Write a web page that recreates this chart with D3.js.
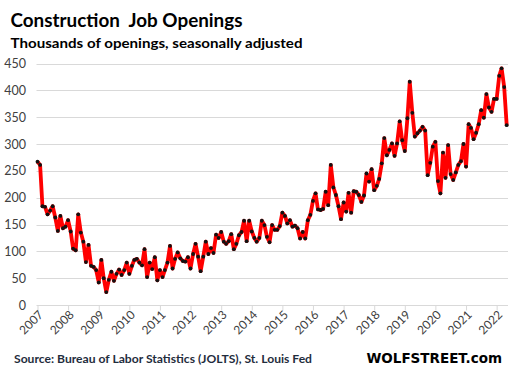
<!DOCTYPE html>
<html><head><meta charset="utf-8">
<script src="https://cdn.jsdelivr.net/npm/d3@7"></script>
<style>
html,body{margin:0;padding:0;background:#fff;}
svg{display:block;}
</style></head>
<body>
<svg id="chart" width="513" height="378"></svg>
<script>
// ---- data ----
const startMonth = "2007-01";
const openings = [
267,261,184,183,169,176,184,163,138,166,143,146,
158,137,105,102,169,135,118,80,112,73,71,65,
42,84,50,24,47,62,45,58,66,56,65,79,
58,73,84,86,79,74,104,52,79,67,89,46,
65,52,65,79,110,68,86,98,87,82,81,89,
68,95,114,90,63,90,118,95,106,97,131,125,
136,118,114,119,132,104,114,130,136,157,119,157,
137,125,118,125,157,149,127,117,149,140,140,147,
172,166,152,158,146,148,143,124,136,124,158,168,
194,208,178,177,179,211,186,261,219,205,184,160,
191,174,209,172,212,211,205,192,204,245,230,253,
214,222,235,264,311,279,289,301,278,301,342,307,
287,348,416,358,314,320,325,332,325,242,265,295,
304,231,208,284,237,298,244,233,247,261,268,300,
258,337,330,309,321,337,363,349,393,368,360,384,
384,427,441,406,335
];
const yTicks = [0,50,100,150,200,250,300,350,400,450];
const yearTicks = [2007,2008,2009,2010,2011,2012,2013,2014,2015,2016,2017,2018,2019,2020,2021,2022];
const title = "Construction  Job Openings";
const subtitle = "Thousands of openings, seasonally adjusted";
const source = "Source: Bureau of Labor Statistics (JOLTS), St. Louis Fed";
const brand = "WOLFSTREET.com";

// ---- build ----
const parse = d3.timeParse("%Y-%m");
const t0 = parse(startMonth);
const data = openings.map((v,i)=>({date:d3.timeMonth.offset(t0,i), value:v}));

const svg = d3.select("#chart");
const font = "Lato, 'Open Sans', sans-serif";

const x = d3.scaleTime()
  .domain([data[0].date, data[data.length-1].date])
  .range([37.5, 506.7]);
const y = d3.scaleLinear().domain([0,450]).range([305,63.5]);

// gridlines
svg.append("g").selectAll("line").data(yTicks.filter(d=>d>0)).join("line")
  .attr("x1",36.5).attr("x2",508)
  .attr("y1",d=>Math.round(y(d))+0.5).attr("y2",d=>Math.round(y(d))+0.5)
  .attr("stroke","#d9d9d9").attr("stroke-width",1);

// x axis
const xAxis = d3.axisBottom(x)
  .tickValues(yearTicks.map(yr=>new Date(yr,0,1)))
  .tickFormat(d3.timeFormat("%Y"))
  .tickSizeOuter(0).tickSize(5);
const gx = svg.append("g").attr("transform",`translate(0,${Math.round(y(0))+0.5})`).call(xAxis);
gx.select(".domain").attr("stroke","#d9d9d9").attr("d","M36.5,0H508");
gx.selectAll(".tick line").attr("stroke","#d9d9d9");
gx.selectAll(".tick text")
  .attr("font-family",font).attr("font-size",12).attr("fill","#404040")
  .attr("text-anchor","end")
  .attr("dy",null).attr("y",0)
  .attr("transform","translate(6,10) rotate(-45)");

// y axis labels
const yAxis = d3.axisLeft(y).tickValues(yTicks).tickSize(0).tickPadding(0);
const gy = svg.append("g").attr("transform","translate(26,0)").call(yAxis);
gy.select(".domain").remove();
gy.selectAll(".tick text").attr("font-family",font).attr("font-size",12.5).attr("fill","#404040");

// line
const line = d3.line().x(d=>x(d.date)).y(d=>y(d.value));
svg.append("path").datum(data).attr("d",line)
  .attr("fill","none").attr("stroke","#ff0000").attr("stroke-width",3.8)
  .attr("stroke-linejoin","round");
svg.append("g").selectAll("circle").data(data).join("circle")
  .attr("cx",d=>x(d.date)).attr("cy",d=>y(d.value)).attr("r",1.9)
  .attr("fill","#111");

// texts
svg.append("text").attr("x",10.5).attr("y",26.5).text(title)
  .attr("font-family",font).attr("font-weight","bold").attr("font-size",18.5).attr("fill","#000")
  .attr("textLength",232).attr("lengthAdjust","spacingAndGlyphs")
  .attr("xml:space","preserve");
svg.append("text").attr("x",10.5).attr("y",47.5).text(subtitle)
  .attr("font-family",font).attr("font-weight","bold").attr("font-size",14).attr("fill","#000")
  .attr("textLength",292).attr("lengthAdjust","spacingAndGlyphs");
svg.append("text").attr("x",14).attr("y",363).text(source)
  .attr("font-family",font).attr("font-weight","bold").attr("font-size",12).attr("fill","#1f2d3d")
  .attr("textLength",298).attr("lengthAdjust","spacingAndGlyphs");
svg.append("text").attr("x",502).attr("y",363).attr("text-anchor","end").text(brand)
  .attr("font-family","'DejaVu Sans', sans-serif").attr("font-weight","bold").attr("font-size",13.5).attr("fill","#000");
</script>
</body></html>
